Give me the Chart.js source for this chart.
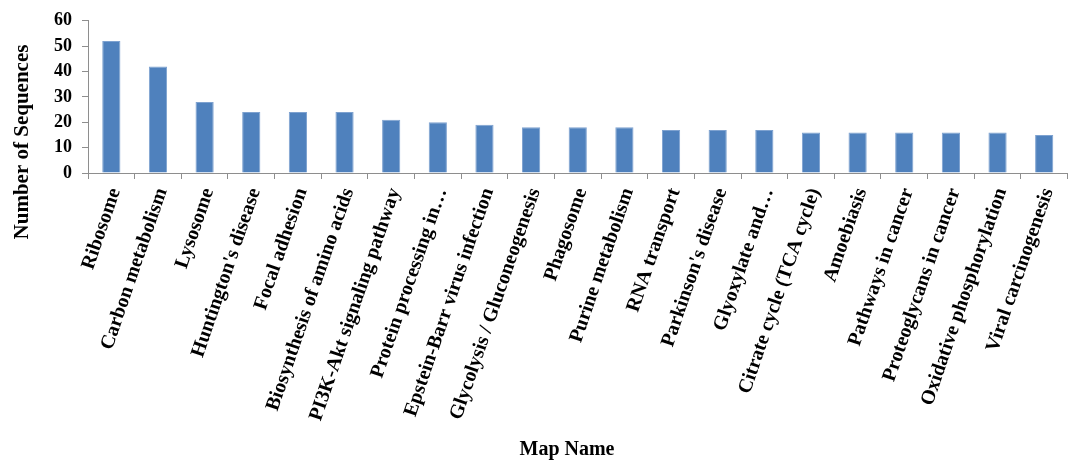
<!DOCTYPE html>
<html>
<head>
<meta charset="utf-8">
<title>KEGG map counts</title>
<script src="https://cdn.jsdelivr.net/npm/chart.js@4/dist/chart.umd.min.js"></script>
<style>
  html, body { margin: 0; padding: 0; background: #ffffff; }
  #chart { display: block; }
</style>
</head>
<body>
<canvas id="chart" width="1073" height="462"></canvas>
<script>
// pathway names (as printed on the axis) and sequence counts
const mapNames = [
  'Ribosome', 'Carbon metabolism', 'Lysosome', "Huntington's disease",
  'Focal adhesion', 'Biosynthesis of amino acids', 'PI3K-Akt signaling pathway',
  'Protein processing in\u2026', 'Epstein-Barr virus infection',
  'Glycolysis / Gluconeogenesis', 'Phagosome', 'Purine metabolism',
  'RNA transport', "Parkinson's disease", 'Glyoxylate and\u2026',
  'Citrate cycle (TCA cycle)', 'Amoebiasis', 'Pathways in cancer',
  'Proteoglycans in cancer', 'Oxidative phosphorylation', 'Viral carcinogenesis'
];
const sequenceCounts = [52, 42, 28, 24, 24, 24, 21, 20, 19, 18, 18, 18, 17, 17, 17, 16, 16, 16, 16, 16, 15];
const yTicks = [0, 10, 20, 30, 40, 50, 60];
const xTitle = 'Map Name';
const yTitle = 'Number of Sequences';

const serif = "'Times New Roman', 'Liberation Serif', serif";
const axisGrey = '#8e8e8e';

// axis titles sit off-centre (Excel style), so they are painted by hand
const axisTitles = {
  id: 'axisTitles',
  afterDraw(chart) {
    const ctx = chart.ctx;
    ctx.save();
    ctx.fillStyle = '#000000';
    ctx.font = 'bold 20px ' + serif;
    ctx.textAlign = 'center';
    ctx.textBaseline = 'middle';
    ctx.fillText(xTitle, 567, 450);
    ctx.translate(23, 142);
    ctx.rotate(-Math.PI / 2);
    ctx.font = 'bold 21px ' + serif;
    ctx.fillText(yTitle, 0, 0);
    ctx.restore();
  }
};

new Chart(document.getElementById('chart'), {
  type: 'bar',
  data: {
    labels: mapNames,
    datasets: [{
      label: yTitle,
      data: sequenceCounts,
      backgroundColor: '#4f81bd',
      borderColor: '#7ea2d0',
      borderWidth: 1,
      barPercentage: 0.39,
      categoryPercentage: 1
    }]
  },
  plugins: [axisTitles],
  options: {
    responsive: false,
    animation: false,
    layout: { padding: { top: 19, right: 5, left: 0, bottom: 0 } },
    plugins: {
      legend: { display: false },
      tooltip: { enabled: false }
    },
    scales: {
      x: {
        offset: true,
        afterFit: scale => { scale.height = 289; },
        grid: { offset: true, drawOnChartArea: false, tickLength: 6, color: axisGrey },
        border: { color: axisGrey, width: 1 },
        ticks: {
          autoSkip: false,
          minRotation: 71,
          maxRotation: 71,
          padding: 6,
          labelOffset: 4,
          color: '#000000',
          font: { family: serif, size: 20, weight: 'bold' }
        }
      },
      y: {
        min: 0,
        max: 60,
        afterBuildTicks: axis => { axis.ticks = yTicks.map(v => ({ value: v })); },
        afterFit: scale => { scale.width = 88; },
        grid: { drawOnChartArea: false, tickLength: 6, color: axisGrey },
        border: { color: axisGrey, width: 1 },
        ticks: {
          padding: 10,
          color: '#000000',
          font: { family: serif, size: 18, weight: 'bold' }
        }
      }
    }
  }
});
</script>
</body>
</html>
